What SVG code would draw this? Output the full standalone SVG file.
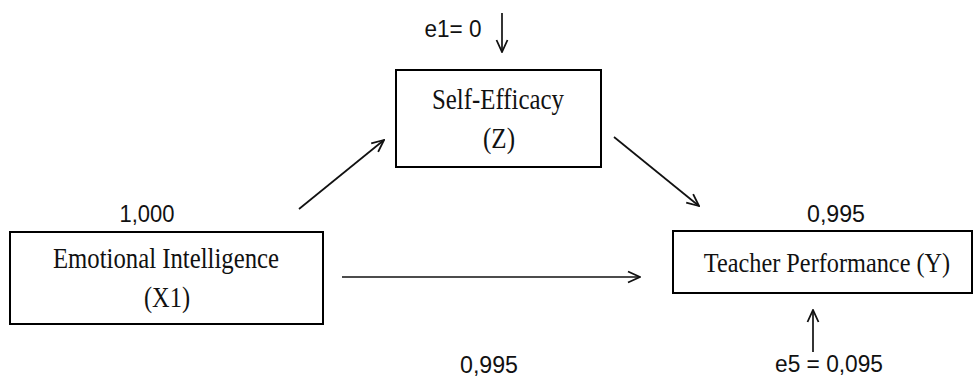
<svg xmlns="http://www.w3.org/2000/svg" width="974" height="378" viewBox="0 0 974 378">
<style>
.box{fill:#fff;stroke:#000;stroke-width:2}
.lbl{font-family:"Liberation Serif",serif;font-size:30px;fill:#111;text-anchor:middle}
.num{font-family:"Liberation Sans",sans-serif;font-size:23px;fill:#111;text-anchor:middle}
.ln{stroke:#111;stroke-width:1.7;fill:none}
</style>
<defs>
<marker id="ah" viewBox="0 0 14 14" refX="13" refY="7" markerWidth="14" markerHeight="14" markerUnits="userSpaceOnUse" orient="auto">
<path d="M1,1.5 L13,7 L1,12.5" fill="none" stroke="#111" stroke-width="1.8"/>
</marker>
</defs>
<rect width="974" height="378" fill="#fff"/>
<g id="connectors">
<line class="ln" x1="299" y1="209" x2="384" y2="140" marker-end="url(#ah)"/>
<line class="ln" x1="614" y1="137" x2="699" y2="206" marker-end="url(#ah)"/>
<line class="ln" x1="342" y1="277" x2="640" y2="277" marker-end="url(#ah)"/>
<line class="ln" x1="502" y1="13" x2="502" y2="52" marker-end="url(#ah)"/>
<line class="ln" x1="813" y1="352" x2="813" y2="310" marker-end="url(#ah)"/>
</g>
<g id="self-efficacy">
<rect class="box" x="396" y="70" width="205" height="97"/>
<text class="lbl" x="498" y="109" textLength="132" lengthAdjust="spacingAndGlyphs">Self-Efficacy</text>
<text class="lbl" x="499" y="148" textLength="32" lengthAdjust="spacingAndGlyphs">(Z)</text>
</g>
<g id="emotional-intelligence">
<rect class="box" x="10" y="232" width="313" height="92"/>
<text class="lbl" x="166" y="268" textLength="226" lengthAdjust="spacingAndGlyphs">Emotional Intelligence</text>
<text class="lbl" x="167" y="307" textLength="46" lengthAdjust="spacingAndGlyphs">(X1)</text>
</g>
<g id="teacher-performance">
<rect class="box" x="673" y="231" width="299" height="62"/>
<text class="lbl" transform="translate(827,272) scale(0.9,1)" x="0" y="0" style="font-size:27px">Teacher Performance (Y)</text>
</g>
<g id="labels">
<text class="num" x="453" y="37" textLength="57" lengthAdjust="spacingAndGlyphs">e1= 0</text>
<text class="num" x="147" y="222" textLength="55" lengthAdjust="spacingAndGlyphs">1,000</text>
<text class="num" x="836" y="222" textLength="58" lengthAdjust="spacingAndGlyphs">0,995</text>
<text class="num" x="489" y="373" textLength="58" lengthAdjust="spacingAndGlyphs">0,995</text>
<text class="num" x="829" y="372" textLength="108" lengthAdjust="spacingAndGlyphs">e5 = 0,095</text>
</g>
</svg>
